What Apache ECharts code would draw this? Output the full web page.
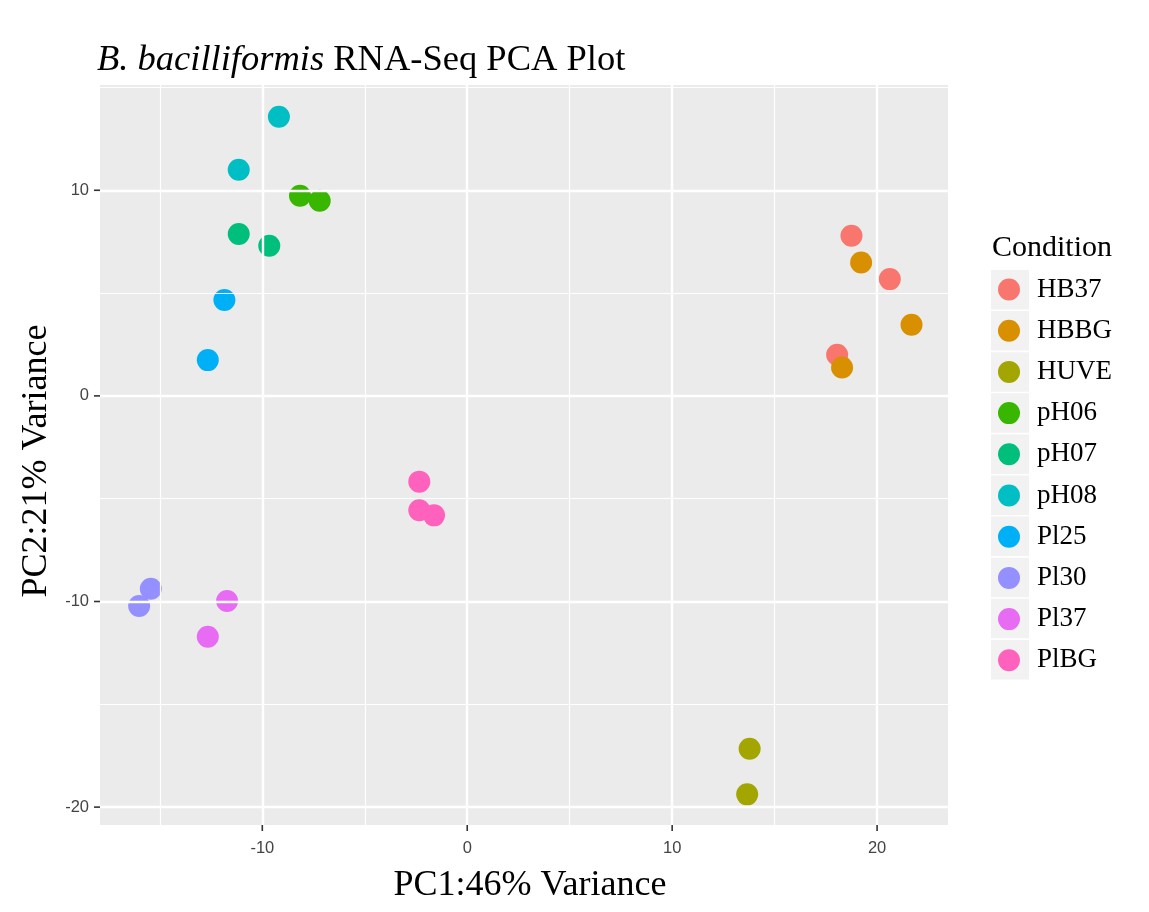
<!DOCTYPE html>
<html>
<head>
<meta charset="utf-8">
<script src="https://cdn.jsdelivr.net/npm/echarts@6/dist/echarts.min.js"></script>
<style>
  html, body { margin: 0; padding: 0; background: #ffffff; }
  #chart { width: 1149px; height: 912px; }
</style>
</head>
<body>
<div id="chart"></div>
<script>
// Conditions and their ggplot-style hue colours
const conditions = ['HB37', 'HBBG', 'HUVE', 'pH06', 'pH07', 'pH08', 'Pl25', 'Pl30', 'Pl37', 'PlBG'];
const conditionColors = ['#F8766D', '#D89000', '#A3A500', '#39B600', '#00BF7D', '#00BFC4', '#00B0F6', '#9590FF', '#E76BF3', '#FF62BC'];

// One entry per sample: condition, PC1 score, PC2 score
const sampleCondition = ['HB37', 'HB37', 'HB37', 'HBBG', 'HBBG', 'HBBG', 'HUVE', 'HUVE',
  'pH06', 'pH06', 'pH07', 'pH07', 'pH08', 'pH08', 'Pl25', 'Pl25', 'Pl30', 'Pl30',
  'Pl37', 'Pl37', 'PlBG', 'PlBG', 'PlBG'];
const pc1 = [18.75, 20.62, 18.05, 19.22, 21.68, 18.29, 13.78, 13.66,
  -8.16, -7.20, -11.15, -9.66, -9.19, -11.15, -11.85, -12.66, -15.44, -16.01,
  -11.72, -12.66, -2.34, -2.34, -1.62];
const pc2 = [7.79, 5.68, 2.00, 6.49, 3.46, 1.38, -17.16, -19.38,
  9.73, 9.49, 7.87, 7.30, 13.58, 11.00, 4.66, 1.74, -9.38, -10.22,
  -9.98, -11.71, -4.17, -5.56, -5.81];

// Axis ticks and grid lines
const xTicks = [-10, 0, 10, 20];
const yTicks = [-20, -10, 0, 10];
const xMinor = [-15, -5, 5, 15];
const yMinor = [-15, -5, 5, 15];

// Panel extent
const X_MIN = -17.92, X_MAX = 23.46;
const Y_MIN = -20.87, Y_MAX = 15.12;

const SERIF = 'Liberation Serif';
const SANS = 'Liberation Sans';
const TICK_LEN = 6;

const chart = echarts.init(document.getElementById('chart'), null, { renderer: 'canvas' });

const pointSeries = conditions.map((c, ci) => ({
  name: c,
  type: 'scatter',
  z: 3,
  symbol: 'circle',
  symbolSize: 22,
  itemStyle: { color: conditionColors[ci], opacity: 1 },
  data: sampleCondition
    .map((sc, i) => (sc === c ? [pc1[i], pc2[i]] : null))
    .filter(d => d !== null)
}));

function gridLines(values, axisKey, width) {
  return values.map(v => ({ [axisKey]: v, lineStyle: { color: '#ffffff', width: width, type: 'solid' } }));
}

// Panel grid drawn as mark lines through the axis scales
const gridSeries = {
  name: 'panel-grid',
  type: 'scatter',
  z: 1,
  silent: true,
  data: [],
  markLine: {
    silent: true,
    symbol: ['none', 'none'],
    label: { show: false },
    animation: false,
    data: [].concat(
      gridLines(xMinor, 'xAxis', 1.2),
      gridLines(yMinor, 'yAxis', 1.2),
      gridLines(xTicks, 'xAxis', 2.4),
      gridLines(yTicks, 'yAxis', 2.4)
    )
  }
};

// Short tick marks just outside the panel, placed by the axis scales
function tickSeries(name, data, horizontal) {
  return {
    name: name,
    type: 'custom',
    z: 2,
    silent: true,
    clip: false,
    data: data,
    renderItem: function (params, api) {
      const p = api.coord([api.value(0), api.value(1)]);
      const end = horizontal ? [p[0] - TICK_LEN, p[1]] : [p[0], p[1] + TICK_LEN];
      return {
        type: 'line',
        shape: { x1: p[0], y1: p[1], x2: end[0], y2: end[1] },
        style: { stroke: '#333333', lineWidth: 1.6 }
      };
    }
  };
}

// Grey key backgrounds behind the legend symbols
const keyTop = 270;
const keyPitch = 41.1;
const keyRects = conditions.map((c, i) => ({
  type: 'rect',
  left: 991,
  top: keyTop + i * keyPitch,
  shape: { width: 38, height: 39.5 },
  style: { fill: '#F2F2F2' },
  z: -1
}));

const tickLabelStyle = { color: '#444444', fontFamily: SANS, fontSize: 16.5 };

const option = {
  backgroundColor: '#ffffff',
  animation: false,
  title: [
    {
      text: '{i|B. bacilliformis} RNA-Seq PCA Plot',
      left: 92,
      top: 37,
      textStyle: {
        fontFamily: SERIF,
        fontSize: 36.5,
        fontWeight: 'normal',
        color: '#000000',
        rich: {
          i: { fontFamily: SERIF, fontSize: 36.5, fontStyle: 'italic', color: '#000000' }
        }
      }
    },
    {
      text: 'Condition',
      left: 987,
      top: 228,
      textStyle: { fontFamily: SERIF, fontSize: 30, fontWeight: 'normal', color: '#000000' }
    }
  ],
  graphic: keyRects,
  legend: {
    orient: 'vertical',
    left: 993,
    top: 271,
    itemWidth: 22,
    itemHeight: 22,
    itemGap: 14.2,
    icon: 'circle',
    data: conditions,
    selectedMode: false,
    textStyle: { fontFamily: SERIF, fontSize: 27, color: '#000000', padding: [0, 0, 0, 12] }
  },
  grid: {
    left: 100,
    top: 85,
    width: 848,
    height: 740,
    show: true,
    backgroundColor: '#EBEBEB',
    borderWidth: 0,
    containLabel: false
  },
  xAxis: {
    type: 'value',
    min: X_MIN,
    max: X_MAX,
    axisLine: { show: false },
    splitLine: { show: false },
    axisTick: { show: false },
    axisLabel: Object.assign({ customValues: xTicks, margin: 15 }, tickLabelStyle),
    name: 'PC1:46% Variance',
    nameLocation: 'middle',
    nameGap: 43,
    nameTextStyle: { fontFamily: SERIF, fontSize: 36, color: '#000000', padding: [0, 0, 0, 12] }
  },
  yAxis: {
    type: 'value',
    min: Y_MIN,
    max: Y_MAX,
    axisLine: { show: false },
    splitLine: { show: false },
    axisTick: { show: false },
    axisLabel: Object.assign({ customValues: yTicks, margin: 11 }, tickLabelStyle),
    name: 'PC2:21% Variance',
    nameLocation: 'middle',
    nameGap: 42,
    nameRotate: 90,
    nameTextStyle: { fontFamily: SERIF, fontSize: 36, color: '#000000', padding: [0, 12, 0, 0] }
  },
  series: [
    gridSeries,
    tickSeries('x-ticks', xTicks.map(v => [v, Y_MIN]), false),
    tickSeries('y-ticks', yTicks.map(v => [X_MIN, v]), true)
  ].concat(pointSeries)
};

chart.setOption(option);
</script>
</body>
</html>
